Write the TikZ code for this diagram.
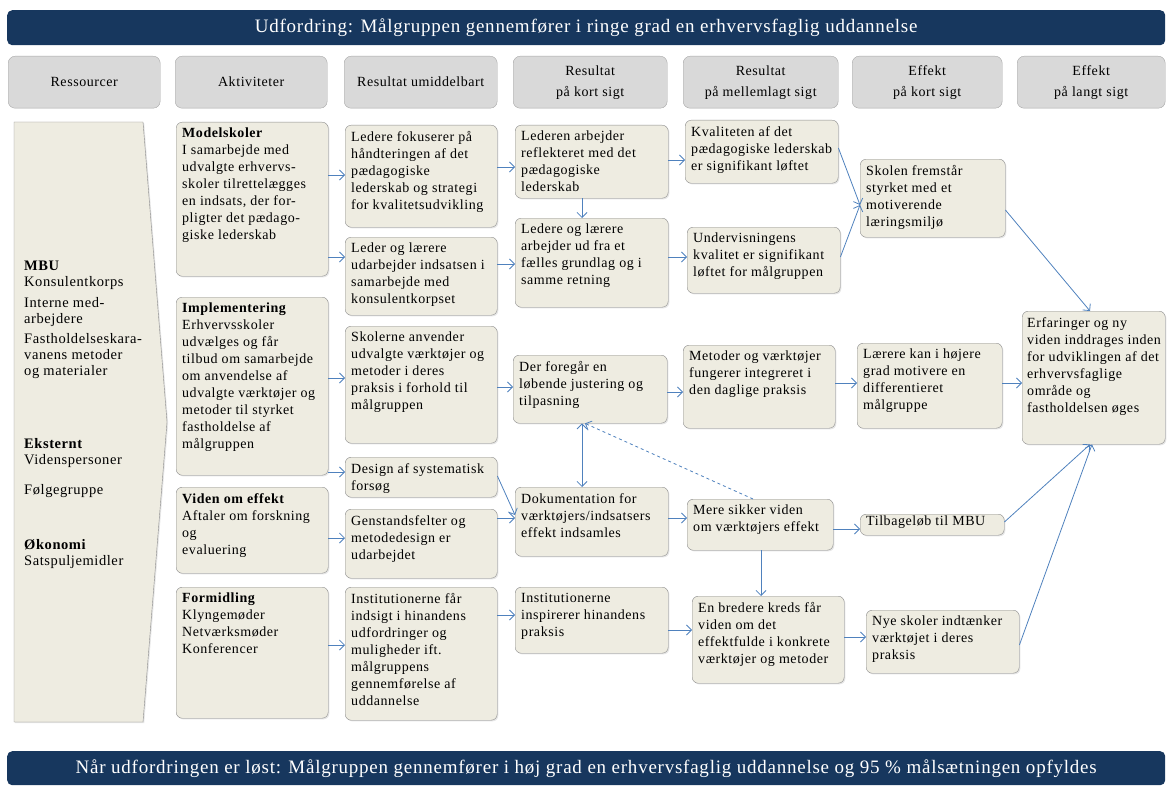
\documentclass[tikz,border=0pt]{standalone}
\usepackage{fontspec}
\setmainfont{Liberation Serif}[LetterSpace=4]
\usetikzlibrary{arrows.meta,shadows}

\definecolor{navy}{HTML}{17375E}
\definecolor{headfill}{HTML}{D9D9D9}
\definecolor{headline}{HTML}{A6A6A6}
\definecolor{boxfill}{HTML}{EEECE1}
\definecolor{boxline}{HTML}{8C8C8C}
\definecolor{linkblue}{HTML}{4F81BD}

\tikzset{
	bannerbox/.style={fill=navy, rounded corners=5pt, text=white, anchor=north west, inner sep=0pt, font=\fontsize{19}{21}\selectfont},
	headbox/.style={fill=headfill, draw=headline, rounded corners=7pt, anchor=north west, inner sep=0pt, align=center, font=\fontsize{14}{21}\selectfont},
	cellbox/.style={fill=boxfill, draw=boxline, rounded corners=6pt, anchor=north west, inner sep=0pt, drop shadow={shadow xshift=1.2pt, shadow yshift=-1.2pt, opacity=0.2}},
	celltext/.style={anchor=north west, align=left, inner xsep=6pt, inner ysep=6pt, font=\fontsize{14}{17}\selectfont},
	restext/.style={anchor=north west, align=left, inner sep=0pt, font=\fontsize{14.5}{16}\selectfont},
	resshape/.style={fill=boxfill, draw=boxline, drop shadow={shadow xshift=1.2pt, shadow yshift=-1.2pt, opacity=0.2}},
	link/.style={draw=linkblue, line width=0.8pt, -{Straight Barb[length=5pt,width=10pt]}},
	twoway/.style={link, {Straight Barb[length=5pt,width=10pt]}-{Straight Barb[length=5pt,width=10pt]}},
}

% box with text at the top: [text style] name, x, y, width, height, text
\newcommand{\boxnode}[7][celltext]{%
	\node[cellbox, minimum width=#5, minimum height=#6] (#2) at (#3,#4) {};
	\node[#1] at (#2.north west) {#7};
}

\begin{document}
\begin{tikzpicture}[x=1pt, y=-1pt]
	\useasboundingbox (0,0) rectangle (1172,789);

	% challenge and goal
	\node[bannerbox, minimum width=1158, minimum height=35] (chal) at (7,10) {Udfordring: Målgruppen gennemfører i ringe grad en erhvervsfaglig uddannelse};
	\node[bannerbox, minimum width=1158, minimum height=34] (goal) at (7,751) {Når udfordringen er løst: Målgruppen gennemfører i høj grad en erhvervsfaglig uddannelse og 95 \% målsætningen opfyldes};

	% column heads
	\node[headbox, minimum width=152, minimum height=52] (hres) at (8,56) {Ressourcer};
	\node[headbox, minimum width=152, minimum height=52] (hakt) at (175,56) {Aktiviteter};
	\node[headbox, minimum width=153, minimum height=52] (humi) at (344,56) {Resultat umiddelbart};
	\node[headbox, minimum width=154, minimum height=52] (hkort) at (513,56) {Resultat\\på kort sigt};
	\node[headbox, minimum width=155, minimum height=52] (hmel) at (683,56) {Resultat\\på mellemlagt sigt};
	\node[headbox, minimum width=150, minimum height=52] (heffk) at (852,56) {Effekt\\på kort sigt};
	\node[headbox, minimum width=148, minimum height=52] (heffl) at (1017,56) {Effekt\\på langt sigt};

	% resources
	\draw[resshape] (14,122) -- (143,122) -- (167,422) -- (143,722) -- (14,722) -- cycle;
	\node[restext] (res) at (24,261) {\textbf{MBU}\\Konsulentkorps\\[5pt]Interne med-\\arbejdere\\[4pt]Fastholdelseskara-\\vanens metoder\\og materialer\\[57pt]\textbf{Eksternt}\\Videnspersoner\\[14pt]Følgegruppe\\[39pt]\textbf{Økonomi}\\Satspuljemidler};

	% activities
	\boxnode{mod}{176}{122}{152}{154}{\textbf{Modelskoler}\\I samarbejde med\\udvalgte erhvervs-\\skoler tilrettelægges\\en indsats, der for-\\pligter det pædago-\\giske lederskab}
	\boxnode{impl}{176}{297}{152}{178}{\textbf{Implementering}\\Erhvervsskoler\\udvælges og får\\tilbud om samarbejde\\om anvendelse af\\udvalgte værktøjer og\\metoder til styrket\\fastholdelse af\\målgruppen}
	\boxnode{viden}{176}{487}{152}{86}{\textbf{Viden om effekt}\\Aftaler om forskning\\og\\evaluering}
	\boxnode{form}{176}{587}{152}{131}{\textbf{Formidling}\\Klyngemøder\\Netværksmøder\\Konferencer}

	% results right away
	\boxnode{fok}{345}{125}{152}{102}{Ledere fokuserer på\\håndteringen af det\\pædagogiske\\lederskab og strategi\\for kvalitetsudvikling}
	\boxnode{udarb}{345}{237}{152}{78}{Leder og lærere\\udarbejder indsatsen i\\samarbejde med\\konsulentkorpset}
	\boxnode{skol}{345}{326}{152}{117}{Skolerne anvender\\udvalgte værktøjer og\\metoder i deres\\praksis i forhold til\\målgruppen}
	\boxnode{design}{345}{457}{152}{40}{Design af systematisk\\forsøg}
	\boxnode{genst}{345}{509}{152}{69}{Genstandsfelter og\\metodedesign er\\udarbejdet}
	\boxnode{instf}{345}{587}{152}{133}{Institutionerne får\\indsigt i hinandens\\udfordringer og\\muligheder ift.\\målgruppens\\gennemførelse af\\uddannelse}

	% results short term
	\boxnode{lederen}{515}{125}{153}{73}{Lederen arbejder\\reflekteret med det\\pædagogiske\\lederskab}
	\boxnode{faelles}{515}{218}{153}{89}{Ledere og lærere\\arbejder ud fra et\\fælles grundlag og i\\samme retning}
	\boxnode{foregaar}{513}{355}{154}{68}{Der foregår en\\løbende justering og\\tilpasning}
	\boxnode{dok}{515}{487}{153}{69}{Dokumentation for\\værktøjers/indsatsers\\effekt indsamles}
	\boxnode{insp}{515}{587}{153}{66}{Institutionerne\\inspirerer hinandens\\praksis}

	% results medium term
	\boxnode{kval}{685}{120}{153}{63}{Kvaliteten af det\\pædagogiske lederskab\\er signifikant løftet}
	\boxnode{underv}{687}{227}{153}{66}{Undervisningens\\kvalitet er signifikant\\løftet for målgruppen}
	\boxnode{metod}{683}{345}{152}{83}{Metoder og værktøjer\\fungerer integreret i\\den daglige praksis}
	\boxnode{mere}{687}{499}{146}{51}{Mere sikker viden\\om værktøjers effekt}
	\boxnode{bred}{692}{596}{152}{87}{En bredere kreds får\\viden om det\\effektfulde i konkrete\\værktøjer og metoder}

	% effect short term
	\boxnode{skolen}{860}{159}{145}{78}{Skolen fremstår\\styrket med et\\motiverende\\læringsmiljø}
	\boxnode{laerere}{857}{343}{145}{85}{Lærere kan i højere\\grad motivere en\\differentieret\\målgruppe}
	\boxnode[celltext, inner ysep=2pt]{tilb}{860}{514}{144}{21}{Tilbageløb til MBU}
	\boxnode{nye}{866}{610}{153}{63}{Nye skoler indtænker\\værktøjet i deres\\praksis}

	% effect long term
	\boxnode[celltext, inner xsep=5pt]{erf}{1022}{311}{143}{133}{Erfaringer og ny\\viden inddrages inden\\for udviklingen af det\\erhvervsfaglige\\område og\\fastholdelsen øges}

	% arrows: Modelskoler
	\draw[link] (mod.east |- 0,175) -- (fok.west |- 0,175);
	\draw[link] (mod.east |- 0,257) -- (udarb.west |- 0,257);
	\draw[link] (fok.east |- 0,167) -- (lederen.west |- 0,167);
	\draw[link] (udarb.east |- 0,264) -- (faelles.west |- 0,264);
	\draw[link] (lederen.south -| 582,0) -- (faelles.north -| 582,0);
	\draw[link] (lederen.east |- 0,160) -- (kval.west |- 0,160);
	\draw[link] (faelles.east |- 0,257) -- (underv.west |- 0,257);
	\draw[link] (kval.east |- 0,148) -- (skolen.west |- 0,205);
	\draw[link] (underv.east |- 0,257) -- (skolen.west |- 0,205);
	\draw[link] (skolen.east |- 0,210) -- (erf.north -| 1090,0);

	% arrows: Implementering
	\draw[link] (impl.east |- 0,378) -- (skol.west |- 0,378);
	\draw[link] (impl.east |- 0,472) -- (design.west |- 0,472);
	\draw[link] (skol.east |- 0,387) -- (foregaar.west |- 0,387);
	\draw[link] (foregaar.east |- 0,392) -- (metod.west |- 0,392);
	\draw[link] (metod.east |- 0,383) -- (laerere.west |- 0,383);
	\draw[link] (laerere.east |- 0,383) -- (erf.west |- 0,383);
	\draw[twoway] (foregaar.south -| 582,0) -- (dok.north -| 582,0);
	\draw[link, dashed] (mere.north -| 753,0) -- (foregaar.south -| 585,0);

	% arrows: Viden om effekt
	\draw[link] (design.east |- 0,476) -- (dok.west |- 0,515);
	\draw[link] (viden.east |- 0,538) -- (genst.west |- 0,538);
	\draw[link] (genst.east |- 0,518) -- (dok.west |- 0,518);
	\draw[link] (dok.east |- 0,518) -- (mere.west |- 0,518);
	\draw[link] (mere.east |- 0,529) -- (tilb.west |- 0,529);
	\draw[link] (mere.south -| 761,0) -- (bred.north -| 761,0);
	\draw[link] (tilb.east |- 0,522) -- (erf.south -| 1090,0);

	% arrows: Formidling
	\draw[link] (form.east |- 0,645) -- (instf.west |- 0,645);
	\draw[link] (instf.east |- 0,615) -- (insp.west |- 0,615);
	\draw[link] (insp.east |- 0,630) -- (bred.west |- 0,630);
	\draw[link] (bred.east |- 0,637) -- (nye.west |- 0,637);
	\draw[link] (nye.east |- 0,645) -- (erf.south -| 1092,0);

\end{tikzpicture}
\end{document}
